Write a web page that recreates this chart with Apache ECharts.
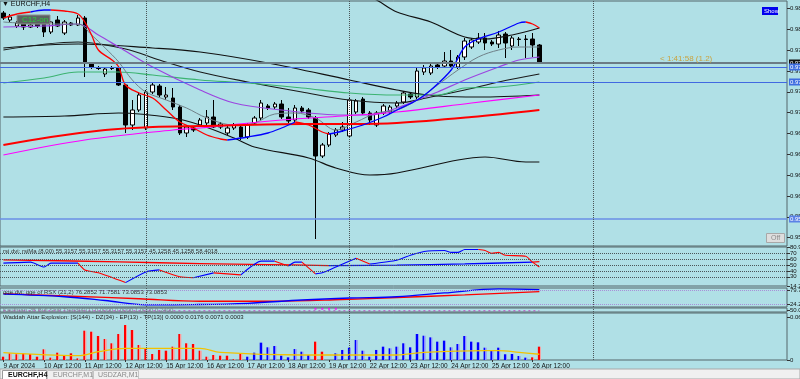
<!DOCTYPE html>
<html><head><meta charset="utf-8">
<script src="https://cdn.jsdelivr.net/npm/echarts@6/dist/echarts.min.js"></script>
<style>html,body{margin:0;padding:0;background:#B0E0E6;}#c{width:800px;height:379px;}</style>
</head><body><div id="c"></div><script>
// ---------- DATA ----------
const slotCount = 116; // bar slots on the time axis (80 bars + chart shift)
const tickLabels = [[0,'9 Apr 2024'],[6,'10 Apr 12:00'],[12,'11 Apr 12:00'],[18,'12 Apr 12:00'],[24,'15 Apr 12:00'],[30,'16 Apr 12:00'],[36,'17 Apr 12:00'],[42,'18 Apr 12:00'],[48,'19 Apr 12:00'],[54,'22 Apr 12:00'],[60,'23 Apr 12:00'],[66,'24 Apr 12:00'],[72,'25 Apr 12:00'],[78,'26 Apr 12:00']];
const separators = [21, 51, 87];
const mainTicks = [0.9550,0.9575,0.9600,0.9625,0.9650,0.9675,0.9700,0.9725,0.9750,0.9775,0.9800,0.9825];
// EURCHF H4 candles [open, close, low, high]
const candles = [
[0.98196,0.98136,0.98112,0.98220],[0.98112,0.98148,0.98088,0.98184],[0.98040,0.98076,0.98016,0.98100],[0.98088,0.98028,0.97992,0.98112],
[0.98028,0.98052,0.98016,0.98076],[0.98064,0.98040,0.98016,0.98088],[0.98076,0.97968,0.97908,0.98112],[0.97968,0.98088,0.97944,0.98100],
[0.98112,0.98040,0.98028,0.98160],[0.97956,0.98088,0.97932,0.98112],[0.98076,0.98052,0.98040,0.98088],[0.98052,0.98136,0.98040,0.98172],
[0.98136,0.97596,0.97428,0.98160],[0.97596,0.97548,0.97524,0.97608],[0.97536,0.97530,0.97512,0.97560],[0.97464,0.97524,0.97428,0.97548],
[0.97536,0.97530,0.97512,0.97560],[0.97536,0.97332,0.97320,0.97560],[0.97332,0.96852,0.96756,0.97344],[0.96852,0.97032,0.96792,0.97152],
[0.97032,0.97212,0.97008,0.97248],[0.96816,0.97248,0.96792,0.97272],[0.97248,0.97332,0.97224,0.97356],[0.97320,0.97212,0.97188,0.97344],
[0.97188,0.97212,0.97152,0.97308],[0.97176,0.97068,0.97032,0.97296],[0.97068,0.96756,0.96732,0.97092],[0.96756,0.96828,0.96708,0.96852],
[0.96816,0.96792,0.96768,0.96840],[0.96852,0.96912,0.96828,0.96936],[0.96876,0.96948,0.96852,0.97032],[0.96948,0.96828,0.96816,0.97152],
[0.96828,0.96864,0.96804,0.96888],[0.96756,0.96816,0.96732,0.96840],[0.96816,0.96852,0.96792,0.96876],[0.96828,0.96708,0.96672,0.96852],
[0.96708,0.96852,0.96684,0.96876],[0.96876,0.96936,0.96852,0.96960],[0.96936,0.97116,0.96912,0.97152],[0.97080,0.97056,0.97032,0.97104],
[0.97068,0.97104,0.97044,0.97128],[0.97104,0.96948,0.96924,0.97152],[0.96948,0.96900,0.96876,0.97056],[0.96912,0.97056,0.96888,0.97092],
[0.97056,0.97020,0.96996,0.97080],[0.97032,0.96948,0.96924,0.97056],[0.96936,0.96480,0.95484,0.96960],[0.96480,0.96612,0.96456,0.96636],
[0.96612,0.96744,0.96588,0.96768],[0.96732,0.96792,0.96708,0.96816],[0.96792,0.96828,0.96768,0.96888],[0.96720,0.97152,0.96696,0.97176],
[0.97008,0.97140,0.96984,0.97164],[0.97164,0.96996,0.96972,0.97188],[0.96996,0.96912,0.96852,0.97020],[0.96852,0.96996,0.96828,0.97020],
[0.96996,0.97080,0.96972,0.97104],[0.97008,0.97068,0.96984,0.97092],[0.97080,0.97116,0.97056,0.97140],[0.97128,0.97236,0.97104,0.97260],
[0.97224,0.97188,0.97164,0.97248],[0.97188,0.97500,0.97164,0.97536],[0.97488,0.97536,0.97452,0.97572],[0.97476,0.97560,0.97452,0.97584],
[0.97572,0.97548,0.97524,0.97596],[0.97560,0.97620,0.97536,0.97728],[0.97620,0.97560,0.97536,0.97752],[0.97548,0.97668,0.97524,0.97692],
[0.97668,0.97860,0.97632,0.97896],[0.97788,0.97872,0.97764,0.97896],[0.97848,0.97896,0.97824,0.97956],[0.97896,0.97836,0.97752,0.97956],
[0.97848,0.97824,0.97800,0.97872],[0.97824,0.97932,0.97776,0.97980],[0.97944,0.97836,0.97656,0.97968],[0.97800,0.97896,0.97752,0.97920],
[0.97884,0.97878,0.97800,0.97908],[0.97884,0.97878,0.97656,0.97932],[0.97884,0.97812,0.97668,0.97956],[0.97812,0.97596,0.97596,0.97824]];
// main-pane indicator lines, [bar, price]
const bbUpper = [[0,0.98604],[11,0.98688],[21,0.98580],[29,0.98604],[39,0.98640],[51,0.98496],[55,0.98352],[58,0.98208],[63,0.98088],[68,0.97908],[71,0.97884],[75,0.97932],[79,0.98016]];
const bbMiddle = [[0,0.97776],[11,0.97824],[22,0.97776],[29,0.97728],[39,0.97596],[51,0.97392],[58,0.97272],[64,0.97200],[70,0.97188],[79,0.97212]];
const bbLower = [[0,0.96948],[9,0.96960],[17,0.96996],[25,0.96936],[29,0.96852],[34,0.96696],[37,0.96588],[45,0.96456],[49,0.96336],[54,0.96252],[58,0.96276],[67,0.96432],[71,0.96468],[77,0.96408],[79,0.96408]];
const slowBlack = [[0,0.97752],[11,0.97848],[18,0.97764],[23,0.97632],[29,0.97488],[36,0.97368],[44,0.97248],[51,0.97152],[58,0.97116],[63,0.97188],[68,0.97272],[73,0.97368],[79,0.97464]];
const grayMa = [[0,0.98088],[6,0.98064],[11,0.98064],[13,0.97932],[15,0.97776],[17,0.97608],[19,0.97392],[21,0.97248],[24,0.97152],[27,0.97056],[30,0.96936],[34,0.96852],[37,0.96876],[40,0.96984],[43,0.96996],[46,0.96936],[49,0.96792],[52,0.96888],[55,0.96996],[58,0.97032],[61,0.97152],[64,0.97332],[67,0.97512],[70,0.97668],[73,0.97752],[76,0.97788],[79,0.97788]];
const purpleMa = [[0,0.98028],[6,0.98040],[11,0.98064],[14,0.97932],[17,0.97788],[22,0.97548],[29,0.97272],[34,0.97116],[41,0.97032],[50,0.96972],[54,0.96972],[58,0.97056],[61,0.97152],[64,0.97248],[68,0.97392],[73,0.97548],[76,0.97632],[79,0.97668]];
const greenMa = [[0,0.97356],[6,0.97416],[11,0.97488],[17,0.97488],[22,0.97452],[29,0.97392],[36,0.97356],[44,0.97296],[51,0.97236],[58,0.97212],[64,0.97212],[68,0.97296],[73,0.97308],[79,0.97368]];
const magentaMa = [[0,0.96492],[12,0.96672],[25,0.96792],[29,0.96816],[41,0.96912],[50,0.96960],[58,0.97008],[69,0.97116],[79,0.97212]];
const thickRed = [[0,0.96612],[7,0.96708],[15,0.96792],[22,0.96828],[29,0.96840],[44,0.96864],[51,0.96864],[58,0.96876],[69,0.96948],[79,0.97032]];
const fastLine = [[0,0.98136],[2,0.98184],[4,0.98208],[6,0.98232],[7,0.98232],[9,0.98220],[11,0.98184],[12,0.98088],[13,0.97932],[14,0.97752],[16,0.97632],[17,0.97548],[18,0.97332],[20,0.97236],[22,0.97176],[24,0.97032],[26,0.96888],[28,0.96816],[30,0.96732],[32,0.96684],[33,0.96672],[36,0.96708],[39,0.96756],[41,0.96816],[43,0.96888],[45,0.96852],[47,0.96768],[48,0.96744],[50,0.96780],[53,0.96852],[56,0.96948],[58,0.97032],[61,0.97152],[63,0.97272],[66,0.97512],[68,0.97788],[70,0.97884],[73,0.97968],[76,0.98076],[77,0.98088],[78,0.98064],[79,0.98016]];
const fastUpRanges = [[4,7],[33,43],[48,77]];
const bidPrice = 0.97596;
const levelLines = [0.97548, 0.97368, 0.95724];
const countdown = [[79,0.97596],[91,0.97596]];
// RSI pane
const rsiFast = [[0,53.3],[4,55],[6,46.7],[7,53.3],[11,53.3],[12,41.7],[14,36.7],[18,20],[21,38.3],[23,41.7],[26,30],[28,28.3],[31,36.7],[35,33.3],[38,56.7],[40,56.7],[42,48.3],[43,55],[44,55],[46,35],[47,36.7],[49,46.7],[52,61.7],[54,51.7],[58,58.3],[60,66.7],[62,73.3],[65,75],[66,71.7],[67,71.7],[68,76.7],[70,76.7],[71,75],[72,70],[73,71.7],[74,66.7],[77,65],[78,55],[79,46.7]];
const rsiFastUpRanges = [[0,11],[18,23],[28,31],[35,40],[42,44],[46,52],[54,70]];
const rsiSlow = [[0,59],[17,55.5],[29,52.5],[39,50.8],[48,49.2],[58,50],[68,52],[78,55],[79,55.8]];
const rsiSlowUpRanges = [[48,78]];
const rsiLevels = [30,40,50,60,70];
const rsiTicks = [14.2,30,40,50,60,70,80.9];
// QQE pane
const qqeRed = [[0,65],[10,55],[20,45],[29,35],[40,35],[50,42],[58,50],[68,60],[79,73]];
const qqeBlue = [[0,63],[9,53],[15,38],[21,21],[28,22],[36,27],[44,40],[51,48],[58,53],[65,68],[73,84],[79,81]];
const qqeLevels = [24.2,79.7];
// Waddah Attar Explosion
const waddahValues = [0.0046,0.0093,0.0080,0.0093,0.0084,0.0046,0.0149,0.0033,0.0102,0.0056,
0.0093,0.0023,0.0409,0.0395,0.0335,0.0293,0.0233,0.0363,0.0488,0.0419,
0.0209,0.0153,0.0084,0.0140,0.0130,0.0186,0.0363,0.0233,0.0223,0.0130,
0.0046,0.0070,0.0060,0.0060,0.0010,0.0093,0.0046,0.0102,0.0242,0.0177,
0.0195,0.0060,0.0037,0.0153,0.0116,0.0070,0.0256,0.0116,0,0.0093,
0.0140,0.0172,0.0279,0.0130,0.0046,0.0140,0.0186,0.0163,0.0186,0.0233,
0.0177,0.0363,0.0339,0.0316,0.0256,0.0270,0.0177,0.0223,0.0335,0.0256,
0.0247,0.0172,0.0126,0.0172,0.0080,0.0084,0.0056,0.0033,0.0037,0.0186];
const waddahTrend = 'RRRRRRRRRR'+'RRRRRRRRRR'+'RRRRRRRRRR'+'RRRRRR'+'BBBBBBBBBB'+'RRR'+'BBBBBBBBBB'+'BBBBBBBBBB'+'BBBBBBBBB'+'RR';
const waddahLine = [[0,0.0102],[11,0.0060],[14,0.0116],[18,0.0163],[29,0.0163],[32,0.0107],[44,0.0070],[58,0.0070],[62,0.0107],[71,0.0130],[73,0.0130],[76,0.0107],[79,0.0080]];
const kaufmanDots = [[46,80],[47,80],[48,80],[49,80]];

// ---------- CHART ----------
const FONT = '"Liberation Sans", "DejaVu Sans", sans-serif';
const categories = Array.from({length: slotCount}, (_, i) => String(i));
const labelMap = {}; tickLabels.forEach(t => labelMap[t[0]] = t[1]);
const grids = [
  {left:0, right:13, top:1, height:245},
  {left:0, right:13, top:247, height:39},
  {left:0, right:13, top:288, height:19},
  {left:0, right:13, top:308, height:4},
  {left:0, right:13, top:313, height:47}
].map(g => Object.assign({show:true, borderColor:'#55666a', borderWidth:1, backgroundColor:'transparent', containLabel:false, outerBoundsMode:'none'}, g));

const xAxes = grids.map((g, i) => ({
  type:'category', gridIndex:i, data:categories, boundaryGap:true,
  axisLine:{show:false}, splitLine:{show:false},
  axisTick: i === 4 ? {show:true, alignWithLabel:true, interval:(idx)=>labelMap[idx]!==undefined, length:2, lineStyle:{color:'#333'}} : {show:false},
  axisLabel: i === 4 ? {show:true, interval:(idx)=>labelMap[idx]!==undefined, formatter:(v, idx)=>labelMap[idx]||'', align:'left', fontSize:6.5, color:'#111', margin:3, fontFamily:FONT} : {show:false}
}));

function yAx(i, min, max, ticks, fmt) {
  return {type:'value', gridIndex:i, position:'right', min:min, max:max,
    axisLine:{show:false}, splitLine:{show:false},
    axisTick:{show:ticks.length>0, customValues:ticks, length:3, lineStyle:{color:'#333'}},
    axisLabel:{show:ticks.length>0, customValues:ticks, formatter:fmt, fontSize:6, color:'#111', margin:3, fontFamily:FONT, showMinLabel:true, showMaxLabel:true}};
}
const yAxes = [
  yAx(0, 0.95400, 0.98340, mainTicks, v=>v.toFixed(4)),
  yAx(1, 14.2, 80.9, rsiTicks, v=>String(v)),
  yAx(2, 12.3, 87.6, qqeLevels, v=>v.toFixed(1)),
  yAx(3, 0, 100, [50], v=>'50.00'),
  yAx(4, 0, 0.065581, [0, 0.06], v=>v===0?'0':v.toFixed(4))
];

function ln(data, color, width, gi, extra) {
  return Object.assign({type:'line', xAxisIndex:gi, yAxisIndex:gi, data:data, showSymbol:false, symbol:'none',
    smooth:0.35, lineStyle:{color:color, width:width}, itemStyle:{color:color}, silent:true, z:3}, extra||{});
}
// split a line into up (blue) / down (red) coloured pieces
function twoColour(points, upRanges, upColor, downColor, width, gi, smooth) {
  const first = points[0][0], last = points[points.length-1][0];
  const bounds = [first];
  upRanges.forEach(r => { bounds.push(r[0]); bounds.push(r[1]); });
  bounds.push(last);
  const b = Array.from(new Set(bounds)).filter(v => v>=first && v<=last).sort((a,c)=>a-c);
  const out = [];
  for (let k = 0; k < b.length-1; k++) {
    const s = b[k], e = b[k+1];
    const pts = points.filter(p => p[0] >= s && p[0] <= e);
    if (pts.length < 2) continue;
    const up = upRanges.some(r => s >= r[0] && e <= r[1]);
    out.push(ln(pts, up ? upColor : downColor, width, gi, {smooth:smooth}));
  }
  return out;
}
const vSep = separators.map(s => ({xAxis:String(s)}));
const sepStyle = {type:'dotted', color:'#4a5558', width:1};
function sepMark(extraData) {
  return {symbol:'none', silent:true, animation:false, precision:6, label:{show:false}, lineStyle:sepStyle,
    data: vSep.concat(extraData||[])};
}
function priceLabel(bg, txt) {
  return {show:true, position:'end', distance:2, formatter:txt, backgroundColor:bg, color:'#fff', fontSize:6, padding:[1,1,0,1], fontFamily:FONT};
}
const mainMarks = [
  {yAxis:bidPrice, lineStyle:{color:'#6b7c85', width:2, type:'solid'}, label:priceLabel('#111', bidPrice.toFixed(5))},
  {yAxis:levelLines[0], lineStyle:{color:'#4169e1', width:1.2, type:'solid'}, label:priceLabel('#3f6de0', levelLines[0].toFixed(5))},
  {yAxis:levelLines[1], lineStyle:{color:'#4169e1', width:1.2, type:'solid'}, label:priceLabel('#3f6de0', levelLines[1].toFixed(5))},
  {yAxis:levelLines[2], lineStyle:{color:'#6a8fe6', width:1.5, type:'solid'}, label:priceLabel('#5b82e6', levelLines[2].toFixed(5))}
];

function barGrad(c1, c2) {
  return new echarts.graphic.LinearGradient(0,0,1,0,[{offset:0,color:c1},{offset:0.6,color:c1},{offset:0.6,color:c2},{offset:1,color:c2}]);
}
const redGrad = barGrad('#ff0000', '#ff9a9a');
const blueGrad = barGrad('#0000ff', '#8c8cff');
const waddahData = waddahValues.map((v, i) => ({value:v, itemStyle:{color: waddahTrend[i]==='R' ? redGrad : blueGrad}}));

const series = [
  {type:'candlestick', xAxisIndex:0, yAxisIndex:0, data:candles, barWidth:4, silent:true, z:2,
   itemStyle:{color:'#ffffff', color0:'#000000', borderColor:'#000000', borderColor0:'#000000', borderWidth:1}},
  ln(bbUpper, '#111111', 1.2, 0),
  ln(bbMiddle, '#111111', 1.2, 0),
  ln(bbLower, '#111111', 1.2, 0),
  ln(slowBlack, '#1a1a1a', 1.2, 0),
  ln(greenMa, '#3cb371', 1.2, 0),
  ln(purpleMa, '#9b45e0', 1.2, 0),
  ln(grayMa, '#6f8088', 1, 0, {markLine:{symbol:'none', silent:true, animation:false, precision:6,
      data: mainMarks.concat(vSep.map(d=>Object.assign({lineStyle:sepStyle, label:{show:false}}, d)))}}),
  ln(magentaMa, '#ff00ff', 1.2, 0),
  ln(thickRed, '#ff0000', 2, 0)
].concat(
  twoColour(fastLine, fastUpRanges, '#0000ff', '#ff0000', 1.3, 0, 0.35),
  [ln(countdown, '#ffd700', 2, 0, {smooth:false, z:4}),
   ln([[0,50],[1,50]], 'transparent', 0, 1, {lineStyle:{width:0}, markLine: sepMark(rsiLevels.map(v=>({yAxis:v})))})],
  twoColour(rsiSlow, rsiSlowUpRanges, '#0000ff', '#ff0000', 1.3, 1, 0.35),
  twoColour(rsiFast, rsiFastUpRanges, '#0000ff', '#ff0000', 1.1, 1, 0.2),
  [
  ln(qqeRed, '#ff0000', 1.3, 2, {markLine:{symbol:'none', silent:true, animation:false, precision:6, label:{show:false},
      data: vSep.map(d=>Object.assign({lineStyle:sepStyle}, d)).concat(qqeLevels.map(v=>({yAxis:v, lineStyle:{type:'dotted', color:'#a98fd8', width:1}})))}}),
  ln(qqeBlue, '#0000ff', 1.3, 2),
  ln([[0,30],[79,30]], '#c040c0', 1, 3, {smooth:false, lineStyle:{color:'#c040c0', width:1, type:[2,3]}, markLine: sepMark()}),
  {type:'scatter', xAxisIndex:3, yAxisIndex:3, data:kaufmanDots, symbol:'rect', symbolSize:[2,2], itemStyle:{color:'#ff00ff'}, silent:true},
  {type:'bar', xAxisIndex:4, yAxisIndex:4, data:waddahData, barWidth:3, silent:true, markLine: sepMark()},
  ln(waddahLine, '#f2c200', 1.3, 4, {z:4})
]);

function txt(x, y, text, size, fill, extraStyle) {
  return {type:'text', x:x, y:y, silent:true, z:52, style:Object.assign({text:text, fontSize:size, fill:fill, fontFamily:FONT}, extraStyle||{})};
}
const graphic = [
  txt(2, 1, '\u25BC EURCHF,H4', 7, '#111'),
  {type:'rect', shape:{x:17, y:15, width:33, height:9}, style:{fill:'#5c6263', stroke:'#8c9090', lineWidth:1}, silent:true, z:50},
  txt(22, 16, 'C12-on', 8, '#29d33a'),
  {type:'rect', shape:{x:762, y:7, width:16, height:8}, style:{fill:'#0000ee'}, silent:true, z:50},
  txt(764, 8, 'Show', 6, '#ffffff'),
  {type:'rect', shape:{x:766.5, y:233.5, width:18, height:9}, style:{fill:'#dedede', stroke:'#a8a8a8', lineWidth:1}, silent:true, z:50},
  txt(771, 235, 'Off', 7, '#8c8c8c'),
  txt(660, 55, '< 1:41:58 (1.2)', 8, '#c9a23e'),
  txt(3, 248, 'rsi dvi: rsiMa (8.00) 55.3157 55.3157 55.3157 55.3157 45.1258 45.1258 58.4018', 6, '#333'),
  txt(3, 289, 'qqe dvi: qqe of RSX (21,2) 76.2852 71.7581 73.0853 73.0853', 6, '#333'),
  txt(3, 307.5, 'Kaufman 2B Bull Shift Trend(4)(1) 0.0000 0.0000 1.0000 0.2400', 6, '#7a7f88'),
  txt(3, 314, 'Waddah Attar Explosion: [S(144) - DZ(34) - EP(13) - TP(13)] 0.0000 0.0176 0.0071 0.0003', 6, '#222'),
  {type:'rect', shape:{x:0, y:369, width:800, height:10}, style:{fill:'#f0f0f0', stroke:'#a8a8a8', lineWidth:1}, silent:true, z:50},
  {type:'rect', shape:{x:2.5, y:370.5, width:44, height:9}, style:{fill:'#ffffff', stroke:'#9a9a9a', lineWidth:1}, silent:true, z:51},
  txt(8, 371.5, 'EURCHF,H4', 7, '#111', {fontWeight:'bold'}),
  {type:'rect', shape:{x:47.5, y:370.5, width:45, height:9}, style:{fill:'#f0f0f0', stroke:'#c4c4c4', lineWidth:1}, silent:true, z:51},
  txt(53, 371.5, 'EURCHF,M1', 7, '#8a8a8a'),
  {type:'rect', shape:{x:93.5, y:370.5, width:45, height:9}, style:{fill:'#f0f0f0', stroke:'#c4c4c4', lineWidth:1}, silent:true, z:51},
  txt(98, 371.5, 'USDZAR,M1', 7, '#8a8a8a')
];

const chart = echarts.init(document.getElementById('c'), null, {renderer:'canvas', width:800, height:379});
chart.setOption({
  backgroundColor:'#B0E0E6', animation:false,
  textStyle:{fontFamily:FONT},
  grid:grids, xAxis:xAxes, yAxis:yAxes, series:series, graphic:graphic
});
</script></body></html>
